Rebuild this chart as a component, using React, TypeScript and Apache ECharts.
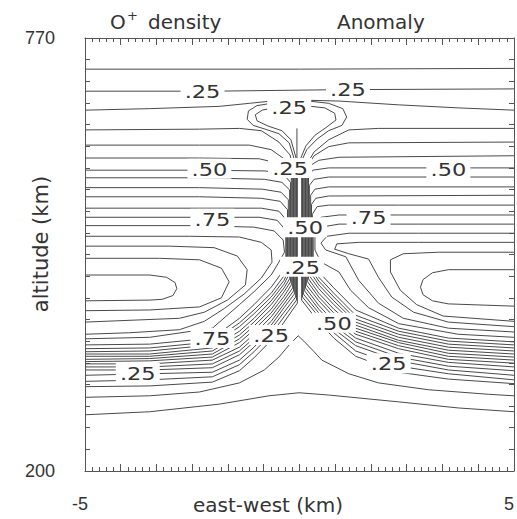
import React, { useEffect, useRef } from 'react';
import * as echarts from 'echarts';

// Axis ranges and tick labels
const X_MIN = -5;
const X_MAX = 5;
const ALT_MIN = 200;
const ALT_MAX = 770;
const X_TICK_LABELS: Record<string, string> = { '-5': '-5', '5': '5' };
const ALT_TICK_LABELS: Record<string, string> = { '200': '200', '770': '770' };

// Contour lines: [east-west km, altitude km]
const C20 = [[-5, 729], [0, 729], [5, 730]];
const C25_TOP = [[-5, 700], [-2, 700], [1, 702], [5, 703]];
const C30_TOP = [[-5, 675], [-3.49, 677], [-1.87, 680], [-1.17, 684], [-0.66, 687], [-0.24, 688], [0.22, 688], [0.92, 687], [2.31, 682], [3.7, 678], [5, 675]];
const EAR_L1 = [[-0.66, 684], [-0.99, 681], [-1.19, 674], [-1.22, 663], [-1.08, 655], [-0.8, 650], [-0.48, 644], [-0.24, 632], [-0.13, 612]];
const EAR_L2 = [[-0.61, 678], [-0.87, 675], [-1.03, 669], [-0.99, 661], [-0.73, 654], [-0.41, 648], [-0.2, 636], [-0.08, 612]];
const EAR_R1 = [[0.22, 687], [0.68, 684], [1.01, 677], [1.1, 666], [0.99, 655], [0.68, 648], [0.41, 637], [0.17, 623], [0.08, 612]];
const EAR_R2 = [[0.27, 680], [0.59, 678], [0.82, 671], [0.85, 662], [0.64, 653], [0.36, 642], [0.15, 628], [0.03, 612]];
const CENTER_STEM = [[-0.06, 651], [-0.06, 612]];

const L95 = [[-5, 480], [-3.26, 480], [-2.33, 478], [-1.82, 467], [-1.64, 449], [-1.82, 428], [-2.33, 416], [-3.49, 412], [-5, 411]];
const L90 = [[-5, 496], [-3.03, 496], [-1.99, 494], [-1.45, 483], [-1.22, 465], [-1.26, 445], [-1.68, 425], [-2.22, 409], [-2.8, 401], [-5, 396]];
const L85 = [[-5, 509], [-2.56, 509], [-1.4, 508], [-0.89, 501], [-0.66, 491], [-0.64, 475], [-0.89, 454], [-1.29, 433], [-1.75, 414], [-2.22, 397], [-2.8, 386], [-3.96, 382], [-5, 380]];
const L80 = [[-5, 523], [-2.33, 523], [-1.06, 521], [-0.59, 516], [-0.38, 504], [-0.35, 488], [-0.48, 475], [-0.66, 458], [-1.06, 436], [-1.4, 419], [-2.03, 388], [-3.49, 376], [-5, 374]];
const L75 = [[-5, 534], [-2.33, 534], [-0.94, 534], [-0.52, 530], [-0.32, 517], [-0.32, 471], [-0.36, 465], [-0.66, 442], [-1.06, 419], [-1.4, 401], [-2.03, 375], [-3.49, 367], [-5, 366]];
const L70 = [[-5, 546], [-2.33, 546], [-0.89, 546], [-0.48, 542], [-0.3, 530], [-0.3, 465], [-0.36, 457], [-0.66, 434], [-1.06, 412], [-1.4, 395], [-2.03, 370], [-3.49, 362], [-5, 361]];
const L65 = [[-5, 561], [-2.33, 561], [-0.89, 559], [-0.45, 555], [-0.28, 544], [-0.28, 461], [-0.36, 451], [-0.66, 429], [-1.06, 407], [-1.4, 390], [-2.03, 366], [-3.49, 358], [-5, 357]];
const L60 = [[-5, 573], [-2.33, 573], [-0.87, 571], [-0.43, 567], [-0.26, 557], [-0.26, 457], [-0.36, 446], [-0.66, 424], [-1.06, 401], [-1.4, 384], [-2.03, 362], [-3.49, 354], [-5, 354]];
const L55 = [[-5, 586], [-2.33, 586], [-0.82, 584], [-0.41, 580], [-0.23, 570], [-0.23, 453], [-0.36, 441], [-0.66, 419], [-1.06, 396], [-1.4, 379], [-2.03, 358], [-3.49, 351], [-5, 351]];
const L50 = [[-5, 596], [-2.33, 596], [-0.8, 595], [-0.38, 591], [-0.21, 580], [-0.21, 449], [-0.36, 436], [-0.66, 413], [-1.06, 391], [-1.4, 374], [-2.03, 354], [-3.49, 348], [-5, 347]];
const L45 = [[-5, 612], [-2.33, 612], [-0.94, 611], [-0.48, 605], [-0.19, 594], [-0.19, 445], [-0.36, 430], [-0.66, 408], [-1.06, 386], [-1.4, 369], [-2.03, 350], [-3.49, 345], [-5, 344]];
const L40 = [[-5, 629], [-2.33, 629], [-1.17, 629], [-0.66, 623], [-0.31, 609], [-0.16, 596], [-0.16, 441], [-0.36, 425], [-0.66, 403], [-1.06, 380], [-1.4, 363], [-2.03, 346], [-3.49, 341], [-5, 341]];
const L35 = [[-5, 649], [-2.33, 650], [-1.4, 651], [-0.89, 648], [-0.48, 633], [-0.22, 616], [-0.14, 599], [-0.14, 437], [-0.36, 420], [-0.66, 397], [-1.06, 375], [-1.4, 358], [-2.03, 341], [-3.49, 337], [-5, 337]];
const L30 = [[-0.12, 587], [-0.12, 433], [-0.36, 415], [-0.66, 392], [-1.06, 370], [-1.4, 353], [-2.03, 336], [-3.49, 333], [-5, 333]];
const L25 = [[-0.09, 587], [-0.09, 429], [-0.36, 409], [-0.66, 387], [-1.06, 363], [-1.4, 346], [-2.03, 330], [-3.49, 328], [-5, 326]];
const L20 = [[-0.07, 587], [-0.07, 425], [-0.36, 403], [-0.66, 380], [-1.06, 357], [-1.4, 340], [-2.03, 324], [-3.49, 320], [-5, 318]];
const L15 = [[-0.05, 587], [-0.05, 421], [-0.36, 396], [-0.66, 372], [-1.06, 349], [-1.4, 332], [-2.03, 317], [-3.49, 312], [-5, 311]];
const ISLAND_L = [[-5, 458], [-3.49, 458], [-3.1, 455], [-2.9, 448], [-2.86, 440], [-2.95, 431], [-3.2, 426], [-3.49, 425], [-5, 424]];

const R95 = [[5, 488], [3.24, 488], [2.42, 486], [2.12, 478], [2.12, 462], [2.35, 438], [2.73, 419], [3.35, 404], [5, 397]];
const R90 = [[5, 501], [2.77, 501], [1.38, 501], [0.87, 499], [0.82, 492], [1.15, 486], [1.61, 479], [1.84, 455], [2.15, 429], [2.66, 409], [3.47, 396], [5, 390]];
const R85 = [[5, 513], [2.77, 513], [1.15, 513], [0.64, 509], [0.5, 500], [0.61, 491], [1.08, 482], [1.38, 451], [1.84, 421], [2.42, 401], [3.47, 388], [5, 383]];
const R80 = [[5, 525], [2.77, 525], [0.92, 525], [0.5, 521], [0.36, 508], [0.36, 491], [0.5, 475], [0.92, 462], [1.19, 438], [1.61, 415], [2.31, 394], [3.7, 380], [5, 376]];
const R75 = [[5, 537], [2.31, 537], [0.92, 537], [0.5, 534], [0.32, 524], [0.32, 475], [0.45, 462], [0.8, 441], [1.31, 412], [2.31, 388], [3.47, 375], [5, 370]];
const R70 = [[5, 550], [2.31, 550], [0.68, 550], [0.41, 548], [0.3, 538], [0.3, 470], [0.45, 455], [0.8, 434], [1.31, 405], [2.31, 384], [3.47, 371], [5, 366]];
const R65 = [[5, 563], [0.68, 562], [0.38, 559], [0.28, 551], [0.28, 465], [0.45, 450], [0.8, 429], [1.31, 400], [2.31, 380], [3.47, 367], [5, 362]];
const R60 = [[5, 574], [0.68, 574], [0.36, 571], [0.26, 563], [0.26, 461], [0.45, 445], [0.8, 424], [1.31, 396], [2.31, 376], [3.47, 363], [5, 358]];
const R55 = [[5, 587], [0.68, 587], [0.34, 584], [0.23, 576], [0.23, 457], [0.45, 440], [0.8, 419], [1.31, 392], [2.31, 372], [3.47, 359], [5, 354]];
const R50 = [[5, 599], [0.68, 599], [0.31, 596], [0.21, 588], [0.21, 453], [0.45, 434], [0.8, 413], [1.31, 388], [2.31, 369], [3.47, 355], [5, 350]];
const R45 = [[5, 615], [0.92, 613], [0.45, 609], [0.22, 601], [0.19, 594], [0.19, 449], [0.45, 429], [0.8, 408], [1.31, 384], [2.31, 365], [3.47, 351], [5, 346]];
const R40 = [[5, 633], [1.15, 632], [0.68, 627], [0.34, 615], [0.16, 599], [0.16, 445], [0.45, 424], [0.8, 403], [1.31, 380], [2.31, 361], [3.47, 347], [5, 342]];
const R35 = [[5, 651], [1.84, 651], [1.15, 649], [0.68, 636], [0.34, 620], [0.14, 601], [0.14, 441], [0.45, 418], [0.8, 397], [1.31, 375], [2.31, 355], [3.47, 343], [5, 337]];
const R30 = [[0.12, 587], [0.12, 437], [0.45, 413], [0.8, 392], [1.31, 370], [2.31, 350], [3.47, 338], [5, 332]];
const R25 = [[0.09, 587], [0.09, 433], [0.45, 408], [0.8, 387], [1.31, 365], [2.31, 345], [3.47, 333], [5, 326]];
const R20 = [[0.07, 587], [0.07, 429], [0.45, 403], [0.8, 382], [1.31, 358], [2.31, 338], [3.47, 328], [5, 320]];
const R15 = [[0.05, 587], [0.05, 425], [0.45, 396], [0.8, 375], [1.31, 351], [2.31, 330], [3.47, 321], [5, 315]];
const ISLAND_R = [[5, 465], [3.47, 465], [3.1, 461], [2.88, 452], [2.82, 442], [2.88, 432], [3.1, 424], [3.47, 420], [5, 417]];

const C10 = [[-5, 297], [-3.49, 299], [-2.33, 304], [-1.4, 316], [-0.82, 333], [-0.48, 350], [-0.24, 366], [-0.03, 378], [0.1, 371], [0.34, 357], [0.52, 346], [1.15, 328], [1.84, 316], [3.0, 307], [4.4, 301], [5, 299]];
const C05 = [[-5, 274], [-3.49, 278], [-1.87, 288], [-0.71, 299], [-0.01, 303], [0.68, 300], [2.31, 291], [3.7, 283], [5, 278]];

const CONTOURS = [
  C20, C25_TOP, C30_TOP, EAR_L1, EAR_L2, EAR_R1, EAR_R2, CENTER_STEM,
  L95, L90, L85, L80, L75, L70, L65, L60, L55, L50, L45, L40, L35, L30, L25, L20, L15, ISLAND_L,
  R95, R90, R85, R80, R75, R70, R65, R60, R55, R50, R45, R40, R35, R30, R25, R20, R15, ISLAND_R,
  C10, C05,
];

// Contour labels
const LABEL_TEXT = ['.25', '.25', '.25', '.50', '.25', '.50', '.75', '.75', '.50', '.25', '.75', '.25', '.50', '.25', '.25'];
const LABEL_X = [-2.26, 1.13, -0.24, -2.1, -0.22, 3.47, -2.03, 1.61, 0.13, 0.06, -2.03, -0.66, 0.8, -3.77, 2.08];
const LABEL_ALT = [700, 703, 680, 598, 599, 598, 532, 534, 521, 469, 375, 379, 395, 329, 342];

const LINE_COLOR = '#4a4a4a';
const TEXT_COLOR = '#333';
const FONT = '"DejaVu Sans", sans-serif';
const NUM_FONT = '"Liberation Sans", Arial, sans-serif';

export default function App() {
  const ref = useRef<HTMLDivElement>(null);
  useEffect(() => {
    if (!ref.current) return;
    const chart = echarts.init(ref.current, undefined, { renderer: 'svg' });
    const frame = { show: true, onZero: false, lineStyle: { color: '#555', width: 1 } };
    const noLine = { show: false, onZero: false };
    const tickStyle = { color: '#555', width: 1 };
    const series: any[] = CONTOURS.map((c) => ({
      type: 'line',
      data: c,
      xAxisIndex: 0,
      yAxisIndex: 0,
      symbol: 'none',
      showSymbol: false,
      silent: true,
      lineStyle: { color: LINE_COLOR, width: 1 },
      z: 2,
    }));
    series.push({
      type: 'custom',
      xAxisIndex: 0,
      yAxisIndex: 0,
      silent: true,
      z: 5,
      data: LABEL_X.map((x, i) => [x, LABEL_ALT[i]]),
      renderItem: (params: any, api: any) => {
        const p = api.coord([api.value(0), api.value(1)]);
        return {
          type: 'group',
          children: [
            { type: 'rect', shape: { x: p[0] - 22, y: p[1] - 10, width: 44, height: 20 }, style: { fill: '#fff' } },
            {
              type: 'text', x: p[0], y: p[1] + 1, scaleX: 1.25,
              style: { text: LABEL_TEXT[params.dataIndex], fill: TEXT_COLOR, fontSize: 18, fontFamily: FONT, align: 'center', verticalAlign: 'middle' },
            },
          ],
        };
      },
    });
    chart.setOption({
      animation: false,
      grid: { left: 85, right: 1, top: 38, bottom: 48, containLabel: false },
      xAxis: [
        {
          type: 'value', min: X_MIN, max: X_MAX, interval: 5, position: 'bottom',
          axisLine: frame, axisTick: { show: false }, splitLine: { show: false },
          axisLabel: {
            formatter: (v: number) => X_TICK_LABELS[String(v)] || '',
            margin: 24, fontSize: 18, fontFamily: NUM_FONT, color: TEXT_COLOR, padding: [0, 10, 0, 0],
          },
        },
        {
          type: 'value', min: 0, max: 12, interval: 1, position: 'bottom',
          axisLine: noLine, splitLine: { show: false }, axisLabel: { show: false },
          axisTick: { show: true, inside: true, length: 7, lineStyle: tickStyle },
          minorTick: { show: true, splitNumber: 5, length: 4, lineStyle: tickStyle },
        },
        {
          type: 'value', min: 0, max: 12, interval: 1, position: 'top',
          axisLine: frame, splitLine: { show: false }, axisLabel: { show: false },
          axisTick: { show: true, inside: true, length: 7, lineStyle: tickStyle },
          minorTick: { show: true, splitNumber: 5, length: 4, lineStyle: tickStyle },
        },
      ],
      yAxis: [
        {
          type: 'value', min: ALT_MIN, max: ALT_MAX, interval: 10, position: 'left',
          axisLine: frame, axisTick: { show: false }, splitLine: { show: false },
          axisLabel: {
            formatter: (v: number) => ALT_TICK_LABELS[String(v)] || '',
            margin: 30, fontSize: 18, fontFamily: NUM_FONT, color: TEXT_COLOR, padding: [14, 0, 0, 0],
          },
        },
        {
          type: 'value', min: 0, max: 20, interval: 1, position: 'left',
          axisLine: noLine, splitLine: { show: false }, axisLabel: { show: false },
          axisTick: { show: true, inside: true, length: 5, lineStyle: tickStyle },
        },
        {
          type: 'value', min: 0, max: 20, interval: 1, position: 'right',
          axisLine: frame, splitLine: { show: false }, axisLabel: { show: false },
          axisTick: { show: true, inside: true, length: 5, lineStyle: tickStyle },
        },
      ],
      graphic: [
        { type: 'text', x: 110, y: 22, style: { text: 'O', fontSize: 20, fontFamily: FONT, fill: TEXT_COLOR, align: 'left', verticalAlign: 'middle' } },
        { type: 'text', x: 127, y: 15, style: { text: '+', fontSize: 13, fontFamily: FONT, fill: TEXT_COLOR, align: 'left', verticalAlign: 'middle' } },
        { type: 'text', x: 148, y: 22, style: { text: 'density', fontSize: 20, fontFamily: FONT, fill: TEXT_COLOR, align: 'left', verticalAlign: 'middle' } },
        { type: 'text', x: 337, y: 22, style: { text: 'Anomaly', fontSize: 20, fontFamily: FONT, fill: TEXT_COLOR, align: 'left', verticalAlign: 'middle' } },
        { type: 'text', x: 41, y: 244, rotation: Math.PI / 2, style: { text: 'altitude (km)', fontSize: 21, fontFamily: FONT, fill: TEXT_COLOR, align: 'center', verticalAlign: 'middle' } },
        { type: 'text', x: 268, y: 505, style: { text: 'east-west (km)', fontSize: 20, fontFamily: FONT, fill: TEXT_COLOR, align: 'center', verticalAlign: 'middle' } },
      ],
      series,
    });
    return () => chart.dispose();
  }, []);
  return <div ref={ref} style={{ position: 'absolute', left: 0, top: 0, width: 517, height: 519 }} />;
}
